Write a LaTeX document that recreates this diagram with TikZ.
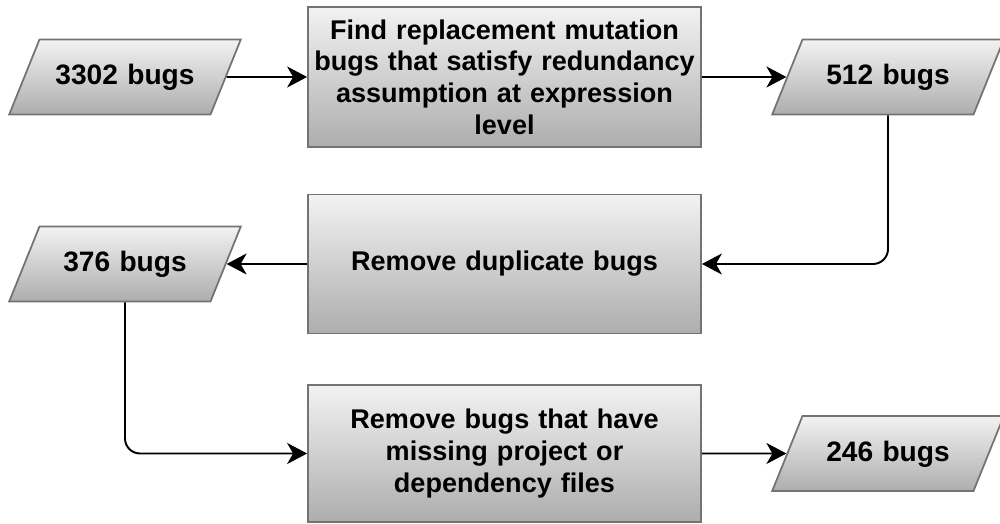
\documentclass[tikz,border=0pt]{standalone}
\usepackage{fontspec}
\setmainfont{Liberation Sans}
\usetikzlibrary{shapes.geometric,arrows.meta}

\tikzset{
  bugset/.style={trapezium, trapezium left angle=68, trapezium right angle=112,
    text width=2.98cm, align=center, text height=0.42cm, text depth=0.1cm,
    inner xsep=0.22cm, inner ysep=0.49cm,
    draw=black!55, line width=1pt, top color=black!5, bottom color=black!32,
    font=\fontsize{16}{18}\selectfont\bfseries},
  stepbox/.style={rectangle, draw=black!55, line width=1pt, minimum width=7.86cm,
    top color=black!5, bottom color=black!32, text width=7.8cm, inner xsep=0.03cm,
    align=center, font=\fontsize{15.4}{18}\selectfont\bfseries},
  flow/.style={-{Stealth[length=0.4cm,width=0.42cm,inset=0.12cm]}, line width=1.1pt,
    rounded corners=0.3cm}
}

\begin{document}
\begin{tikzpicture}
			%%%%% START %%%%%
			\useasboundingbox (0, 0) rectangle (20, 10.48);
			
			\node[bugset] (p1) at (2.5, 8.94) {3302 bugs};
			\node[stepbox, minimum height=2.8cm] (b1) at (10.09, 8.94) {Find replacement mutation\\ bugs that satisfy redundancy\\ assumption at expression\\ level};
			\node[bugset] (p2) at (17.76, 8.94) {512 bugs};
			
			\node[stepbox, minimum height=2.78cm] (b2) at (10.09, 5.2) {Remove duplicate bugs};
			\node[bugset] (p3) at (2.5, 5.2) {376 bugs};
			
			\node[stepbox, minimum height=2.74cm] (b3) at (10.09, 1.41) {Remove bugs that have\\ missing project or\\ dependency files};
			\node[bugset] (p4) at (17.76, 1.41) {246 bugs};
			
			\draw[flow] (p1) -- (b1);
			\draw[flow] (b1) -- (p2);
			\draw[flow] (p2.south) |- (b2.east);
			\draw[flow] (b2) -- (p3);
			\draw[flow] (p3.south) |- (b3.west);
			\draw[flow] (b3) -- (p4);
			
			%%%%% END %%%%%
\end{tikzpicture}
\end{document}
